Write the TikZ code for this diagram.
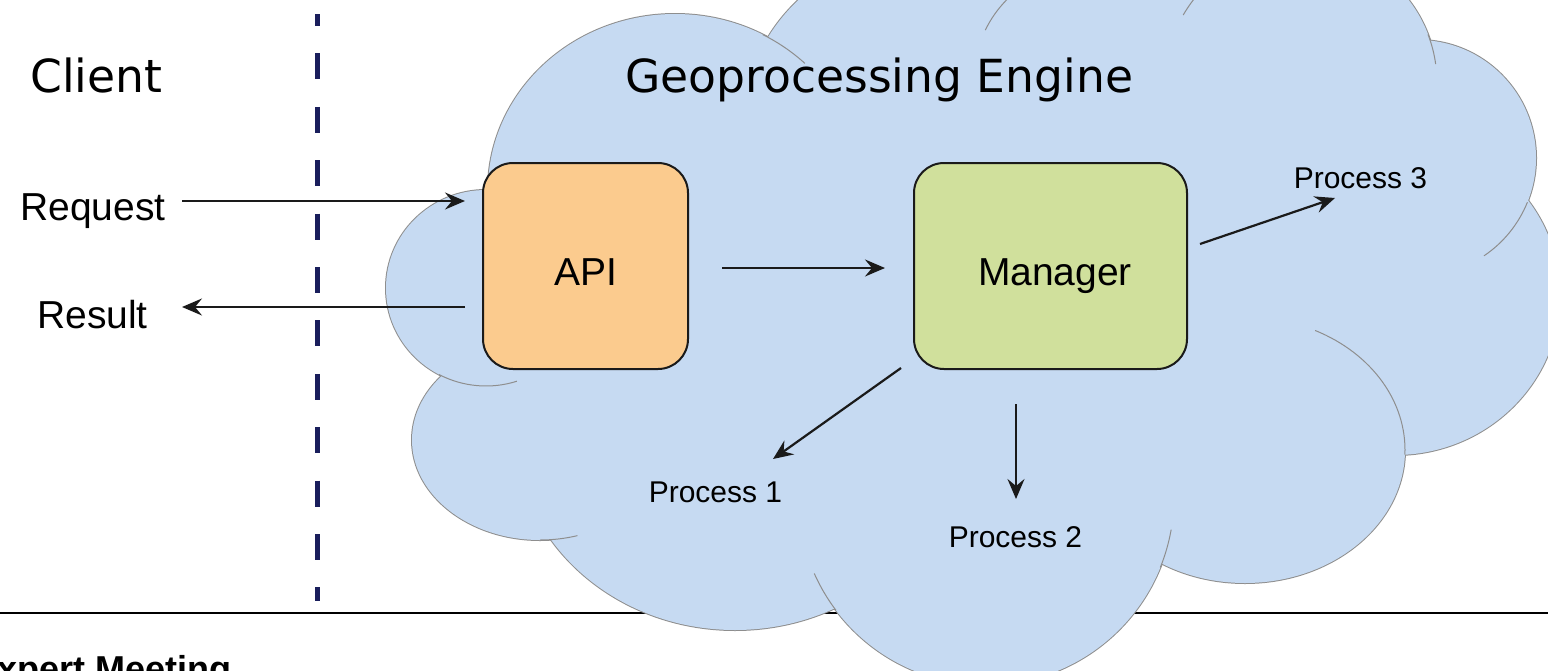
\documentclass[tikz,border=0pt]{standalone}
\usepackage{fontspec}
\setmainfont{Liberation Sans}
\newfontfamily\dejavufont{DejaVu Sans}
\usetikzlibrary{arrows.meta}
\definecolor{cloudfill}{HTML}{C6DAF2}
\definecolor{cloudline}{HTML}{8E8E8E}
\definecolor{apifill}{HTML}{FBCB8E}
\definecolor{mgrfill}{HTML}{D0E09C}
\definecolor{dashnavy}{HTML}{1A1E5C}
\definecolor{ink}{HTML}{1A1A1A}
\begin{document}
\begin{tikzpicture}[x=1pt,y=-1pt,
  box/.style={draw=ink, line width=2pt, rounded corners=30pt, inner sep=0pt,
              minimum height=206pt},
  arr/.style={draw=ink, line width=2.2pt, -{Stealth[length=20pt,width=17pt,inset=7pt]}},
  lbl/.style={font=\fontsize{39}{39}\selectfont, inner sep=0pt, text=black},
  plbl/.style={font=\fontsize{30}{30}\selectfont, inner sep=0pt, text=black},
  biglbl/.style={font=\dejavufont\fontsize{45.6}{46}\selectfont, inner sep=0pt, text=black},
  foot/.style={font=\bfseries\fontsize{36}{36}\selectfont, inner sep=0pt, text=black},
  tail/.style={draw=cloudline, line width=1pt},
  rule/.style={draw=black, line width=2.6pt},
  divider/.style={draw=dashnavy, line width=5pt, dash pattern=on 26pt off 27.4pt, dash phase=14pt},
]
\useasboundingbox (0,0) rectangle (1548,670);
\fill[white] (0,0) rectangle (1548,670);

% footer rule (behind the cloud)
\coordinate (ruleL) at (0,613);
\coordinate (ruleR) at (1548,613);
\draw[rule] (ruleL) -- (ruleR);

% client / engine divider
\coordinate (divT) at (317,14);
\coordinate (divB) at (317,601);
\draw[divider] (divT) -- (divB);

% cloud: outline pass (outer half remains visible), then fill pass
\def\cloudlist{486/288/100/98, 675/190/187/176, 540/440/128/100, 735/430/220/200,
  986/497/188/188, 1245/450/160/133, 1395/295/165/160, 1418/158/118/118,
  1301/83/136/136, 1105/75/130/115, 920/130/178/178}
\foreach \cx/\cy/\rx/\ry in \cloudlist
  \draw[draw=cloudline, line width=2pt] (\cx,\cy) ellipse[x radius=\rx, y radius=\ry];
\foreach \cx/\cy/\rx/\ry in \cloudlist
  \fill[cloudfill] (\cx,\cy) ellipse[x radius=\rx, y radius=\ry];
\fill[cloudfill] (495,190) -- (443,373) -- (552,538) -- (835,605) -- (1160,562)
  -- (1405,452) -- (1523,207) -- (1428,42) -- (1195,-10) -- (1020,-10)
  -- (768,40) -- cycle;

% inner tails of the cloud bumps
\draw[tail] (486,288) ++(72:100 and 98) arc[start angle=72, end angle=118, x radius=100, y radius=98];
\draw[tail] (540,440) ++(73:128 and 100) arc[start angle=73, end angle=90, x radius=128, y radius=100];
\draw[tail] (986,497) ++(143:188 and 188) arc[start angle=143, end angle=156, x radius=188, y radius=188];
\draw[tail] (986,497) ++(10:188 and 188) arc[start angle=10, end angle=22, x radius=188, y radius=188];
\draw[tail] (1245,450) ++(-64:160 and 133) arc[start angle=-64, end angle=2, x radius=160, y radius=133];
\draw[tail] (1418,158) ++(22:118 and 118) arc[start angle=22, end angle=56, x radius=118, y radius=118];
\draw[tail] (1301,83) ++(-21:136 and 136) arc[start angle=-21, end angle=-8, x radius=136, y radius=136];
\draw[tail] (1301,83) ++(-150:136 and 136) arc[start angle=-150, end angle=-125, x radius=136, y radius=136];
\draw[tail] (1105,75) ++(-157:130 and 115) arc[start angle=-157, end angle=-120, x radius=130, y radius=115];
\draw[tail] (675,190) ++(-62:187 and 176) arc[start angle=-62, end angle=-46, x radius=187, y radius=176];

% boxes
\node[box, fill=apifill, minimum width=205pt] (api) at (585.5,266) {};
\node[box, fill=mgrfill, minimum width=273pt] (manager) at (1050.5,266) {};

% texts
\node[biglbl, anchor=base west] (client) at (30,92) {Client};
\node[biglbl, anchor=base west] (engine) at (625,92) {Geoprocessing Engine};
\node[lbl, anchor=base west] (request) at (20,220) {Request};
\node[lbl, anchor=base west] (result) at (37,328) {Result};
\node[lbl, anchor=base] (apitext) at (585.5,285) {API};
\node[lbl, anchor=base] (mgrtext) at (1055,285) {Manager};
\node[plbl, anchor=base] (proc3) at (1360.5,188) {Process 3};
\node[plbl, anchor=base] (proc1) at (715.5,502) {Process 1};
\node[plbl, anchor=base] (proc2) at (1015.5,547) {Process 2};
\node[foot, anchor=base west] (footer) at (-27,681) {Expert Meeting};

% connectors
\coordinate (reqS) at (182,201);  \coordinate (reqE) at (465,201);
\coordinate (resS) at (465,307);  \coordinate (resE) at (182,307);
\coordinate (amS) at (722,268);   \coordinate (amE) at (885,268);
\coordinate (p3S) at (1200,244);  \coordinate (p3E) at (1335,198);
\coordinate (p1S) at (901,368);   \coordinate (p1E) at (773,459);
\coordinate (p2S) at (1016,404);  \coordinate (p2E) at (1016,499);
\draw[arr] (reqS) -- (reqE);
\draw[arr] (resS) -- (resE);
\draw[arr] (amS) -- (amE);
\draw[arr] (p3S) -- (p3E);
\draw[arr] (p1S) -- (p1E);
\draw[arr] (p2S) -- (p2E);
\end{tikzpicture}
\end{document}
